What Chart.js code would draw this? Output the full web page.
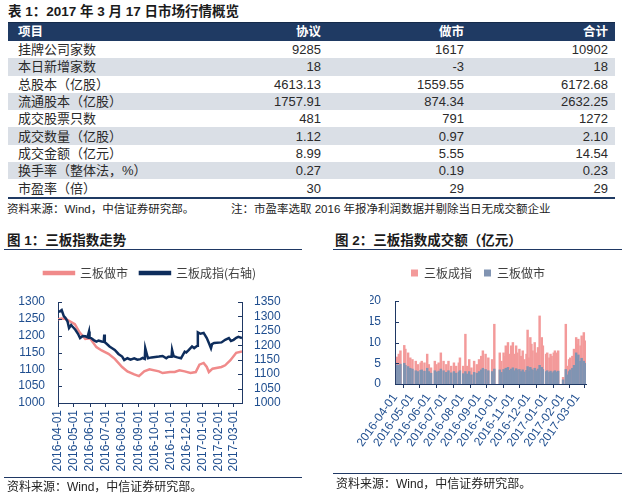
<!DOCTYPE html>
<html>
<head>
<meta charset="utf-8">
<script src="https://cdn.jsdelivr.net/npm/chart.js@4.4.1/dist/chart.umd.min.js"></script>
<style>
html,body{margin:0;padding:0;background:#fff}
body{position:relative;width:624px;height:494px;overflow:hidden;font-family:"Liberation Sans","Noto Sans CJK SC",sans-serif;color:#222}
.abs{position:absolute;white-space:nowrap}
.ttl{font-weight:bold;font-size:13.5px;color:#1b1b1b;line-height:16px}
.src{font-size:12px;color:#222;line-height:14px}
.src2{font-size:11.5px;color:#222;line-height:14px}
.rule{position:absolute;height:1px;background:#1F3864}
table{position:absolute;left:8px;top:22px;width:607px;border-collapse:collapse;table-layout:fixed;font-size:13px}
td,th{padding:0;height:17.3px;line-height:17px;white-space:nowrap;overflow:hidden;color:#2a2a2a}
th{background:#1F3A63;color:#fff;font-weight:bold;height:18px;font-size:12.5px;border-top:1px solid #142a4a}
tr.g td{background:#DADFE6}
td:first-child,th:first-child{text-align:left;padding-left:10px}
td:nth-child(2),th:nth-child(2){text-align:right;padding-right:3px}
td:nth-child(3),th:nth-child(3){text-align:right;padding-right:3px}
td:nth-child(4),th:nth-child(4){text-align:right;padding-right:7px}
tbody tr:last-child td{border-bottom:2px solid #1F3A63}
canvas{position:absolute}
</style>
</head>
<body>
<div class="abs ttl" style="left:8px;top:4px">表 1：2017 年 3 月 17 日市场行情概览</div>
<table id="tbl"><colgroup><col style="width:200px"><col style="width:116px"><col style="width:143px"><col style="width:148px"></colgroup><thead></thead><tbody></tbody></table>
<div class="abs src2" style="left:7px;top:202px">资料来源：Wind，中信证券研究部。</div>
<div class="abs src2" style="left:231px;top:202px">注：市盈率选取 2016 年报净利润数据并剔除当日无成交额企业</div>
<div class="abs ttl" style="left:7px;top:233px">图 1：三板指数走势</div>
<div class="rule" style="left:4px;top:249px;width:298px"></div>
<div class="abs ttl" style="left:335px;top:233px">图 2：三板指数成交额（亿元）</div>
<div class="rule" style="left:333px;top:249px;width:289px"></div>
<canvas id="c1" width="310" height="222" style="left:0;top:255px"></canvas>
<canvas id="c2" width="299" height="218" style="left:325px;top:255px"></canvas>
<div class="rule" style="left:4px;top:477px;width:298px"></div>
<div class="abs src" style="left:7px;top:480px">资料来源：Wind，中信证券研究部。</div>
<div class="rule" style="left:333px;top:473px;width:289px"></div>
<div class="abs src" style="left:336px;top:477px">资料来源：Wind，中信证券研究部。</div>
<script>
// ---------- Table data ----------
const colHeads = ['项目', '协议', '做市', '合计'];
const rowLabels = ['挂牌公司家数', '本日新增家数', '总股本（亿股）', '流通股本（亿股）', '成交股票只数', '成交数量（亿股）', '成交金额（亿元）', '换手率（整体法，%）', '市盈率（倍）'];
const xieyi  = ['9285', '18', '4613.13', '1757.91', '481', '1.12', '8.99', '0.27', '30'];
const zuoshi = ['1617', '-3', '1559.55', '874.34', '791', '0.97', '5.55', '0.19', '29'];
const heji   = ['10902', '18', '6172.68', '2632.25', '1272', '2.10', '14.54', '0.23', '29'];

// ---------- Chart 1: index trend ----------
const monthTicks = ['2016-04-01','2016-05-01','2016-06-01','2016-07-01','2016-08-01','2016-09-01','2016-10-01','2016-11-01','2016-12-01','2017-01-01','2017-02-01','2017-03-01'];
const zsDates = ['2016-04-01','2016-04-08','2016-04-15','2016-04-22','2016-05-03','2016-05-12','2016-05-23','2016-06-01','2016-06-13','2016-06-23','2016-07-06','2016-07-18','2016-08-01','2016-08-11','2016-08-24','2016-09-02','2016-09-12','2016-09-22','2016-10-10','2016-10-17','2016-10-31','2016-11-09','2016-11-18','2016-11-28','2016-12-09','2016-12-19','2016-12-26','2017-01-03','2017-01-09','2017-01-13','2017-01-20','2017-02-06','2017-02-13','2017-02-23','2017-03-06','2017-03-17'];
const zsValues = [1249,1251,1250,1244,1234,1210,1190,1192,1166,1156,1146,1131,1107,1094,1085,1080,1094,1100,1094,1089,1092,1092,1097,1094,1089,1092,1114,1119,1107,1092,1102,1107,1112,1127,1149,1153];
const czDates = ['2016-04-01','2016-04-05','2016-04-08','2016-04-12','2016-04-15','2016-04-19','2016-04-22','2016-04-26','2016-04-28','2016-05-04','2016-05-09','2016-05-13','2016-05-18','2016-05-23','2016-05-27','2016-05-30','2016-05-31','2016-06-03','2016-06-08','2016-06-13','2016-06-17','2016-06-23','2016-06-27','2016-06-28','2016-06-29','2016-07-01','2016-07-08','2016-07-13','2016-07-18','2016-07-25','2016-08-01','2016-08-05','2016-08-11','2016-08-17','2016-08-24','2016-08-30','2016-09-05','2016-09-09','2016-09-13','2016-09-14','2016-09-19','2016-09-26','2016-10-10','2016-10-17','2016-10-24','2016-10-28','2016-11-03','2016-11-04','2016-11-07','2016-11-14','2016-11-21','2016-11-28','2016-12-01','2016-12-06','2016-12-12','2016-12-16','2016-12-20','2016-12-22','2016-12-23','2016-12-28','2017-01-03','2017-01-09','2017-01-13','2017-01-17','2017-01-19','2017-01-23','2017-02-06','2017-02-13','2017-02-20','2017-02-24','2017-03-01','2017-03-06','2017-03-10','2017-03-17'];
const czValues = [1316,1318,1322,1301,1295,1283,1260,1270,1266,1254,1240,1225,1232,1231,1228,1248,1226,1225,1218,1213,1216,1213,1212,1237,1210,1208,1196,1190,1184,1170,1161,1149,1155,1150,1155,1150,1152,1156,1153,1190,1155,1158,1161,1163,1155,1160,1160,1184,1162,1158,1155,1178,1175,1184,1196,1190,1196,1198,1245,1240,1243,1225,1208,1190,1204,1208,1210,1219,1225,1215,1219,1226,1229,1225];

// ---------- Chart 2: turnover (亿元) ----------
const barDates = ['2016-04-05','2016-04-08','2016-04-11','2016-04-18','2016-04-20','2016-04-25','2016-04-29','2016-05-03','2016-05-09','2016-05-13','2016-05-18','2016-05-20','2016-05-25','2016-05-30','2016-06-02','2016-06-06','2016-06-13','2016-06-16','2016-06-20','2016-06-24','2016-06-29','2016-07-04','2016-07-08','2016-07-13','2016-07-18','2016-07-22','2016-07-27','2016-07-29','2016-08-04','2016-08-08','2016-08-11','2016-08-15','2016-08-19','2016-08-24','2016-08-29','2016-09-02','2016-09-06','2016-09-09','2016-09-14','2016-09-19','2016-09-26','2016-09-30','2016-10-10','2016-10-13','2016-10-17','2016-10-19','2016-10-21','2016-10-25','2016-10-28','2016-10-31','2016-11-03','2016-11-07','2016-11-09','2016-11-11','2016-11-15','2016-11-18','2016-11-21','2016-11-24','2016-11-28','2016-11-30','2016-12-02','2016-12-05','2016-12-07','2016-12-09','2016-12-13','2016-12-16','2016-12-19','2016-12-22','2016-12-26','2016-12-28','2017-01-03','2017-01-05','2017-01-09','2017-01-11','2017-01-13','2017-01-17','2017-01-19','2017-01-23','2017-01-25','2017-02-03','2017-02-08','2017-02-10','2017-02-14','2017-02-16','2017-02-20','2017-02-23','2017-02-27','2017-03-01','2017-03-03','2017-03-07','2017-03-09','2017-03-13','2017-03-16'];
const czAmount = [6.5,7.2,8.0,9.3,8.4,7.5,6.3,5.9,5.5,4.7,5.1,5.5,5.1,7.2,4.7,3.9,5.5,4.7,5.1,7.5,5.5,4.7,5.5,4.3,5.1,4.3,5.1,6.3,4.3,12.0,4.3,5.9,3.9,5.5,4.7,5.9,6.7,8.0,7.2,6.3,5.9,14.4,7.5,5.5,7.5,6.7,9.2,10.0,7.2,9.2,10.0,7.2,9.2,7.5,8.4,6.7,8.0,5.9,7.2,13.0,6.3,11.2,9.6,8.0,10.0,7.5,8.8,16.4,11.2,9.2,7.2,7.5,6.3,7.2,6.7,7.5,8.0,7.5,8.0,1.6,14.4,4.3,5.9,6.3,6.7,8.4,11.2,9.6,10.8,9.2,11.6,12.4,10.4];
const zsAmount = [4.6,4.5,4.8,5.0,4.5,4.2,3.8,3.6,3.2,3.0,3.3,3.4,3.1,3.8,3.0,2.6,3.2,2.9,3.1,3.6,3.2,2.8,3.2,2.7,3.0,2.6,2.9,3.2,2.5,3.0,2.4,3.0,2.2,2.8,2.6,3.0,3.4,3.8,3.5,3.2,3.0,3.6,3.4,2.8,3.5,3.2,3.8,4.0,3.3,3.6,3.9,3.2,3.7,3.4,3.5,3.0,3.4,2.9,3.3,4.2,3.1,4.0,3.6,3.3,3.8,3.2,3.6,4.5,4.0,3.5,3.0,3.2,2.8,3.1,2.7,3.0,3.2,2.9,3.1,1.0,3.5,2.2,3.0,3.4,3.8,4.5,7.5,6.0,7.0,5.5,6.2,5.5,5.0];

// ---------- build table ----------
(function(){
  const thead = document.querySelector('#tbl thead');
  thead.innerHTML = '<tr>' + colHeads.map(h => '<th>' + h + '</th>').join('') + '</tr>';
  const tbody = document.querySelector('#tbl tbody');
  tbody.innerHTML = rowLabels.map((r, i) =>
    '<tr' + (i % 2 === 1 ? ' class="g"' : '') + '><td>' + r + '</td><td>' + xieyi[i] + '</td><td>' + zuoshi[i] + '</td><td>' + heji[i] + '</td></tr>'
  ).join('');
})();

// ---------- charts ----------
Chart.defaults.font.family = '"Liberation Sans", "Noto Sans CJK SC", sans-serif';
Chart.defaults.font.size = 12;
const AX = '#1F3864', TICK = '#1F4E8F', PINK = '#F08A8A', NAVY = '#0E2D5C';
const day0 = Date.UTC(2016, 3, 1);
const toDay = s => { const p = s.split('-').map(Number); return (Date.UTC(p[0], p[1] - 1, p[2]) - day0) / 86400000; };
const monthDays = monthTicks.map(toDay);
const pts = (ds, vs) => ds.map((d, i) => ({ x: toDay(d), y: vs[i] }));

const xScale = (rot, h) => ({
  type: 'linear', min: 0, max: 350, offset: false,
  afterBuildTicks: s => { s.ticks = monthDays.map(v => ({ value: v })); },
  afterFit: s => { s.paddingLeft = 0; s.paddingRight = 0; s.height = h; },
  ticks: { autoSkip: false, minRotation: rot, maxRotation: rot, padding: 3, color: TICK, font: { size: 12 }, callback: (v, i) => monthTicks[i] },
  grid: { display: true, drawOnChartArea: false, drawTicks: true, tickLength: 4, color: AX },
  border: { display: true, color: AX, width: 1 }
});
const yScale = (pos, min, max, step, pad, w) => ({
  position: pos, min: min, max: max,
  afterFit: s => { s.width = w; },
  ticks: { stepSize: step, padding: pad, color: TICK, autoSkip: false, font: { size: 12, lineHeight: 1 }, callback: v => String(v) },
  grid: { display: false, drawTicks: false },
  border: { display: true, color: AX, width: 1 }
});
const legendH = h => ({ id: 'legendH', beforeInit(chart) {
  const fit = chart.legend.fit;
  chart.legend.fit = function () { fit.call(this); this.height = h; };
}});
const inTicks = ids => ({ id: 'inTicks', afterDraw(chart) {
  const ctx = chart.ctx;
  ctx.save(); ctx.strokeStyle = AX; ctx.lineWidth = 1;
  ids.forEach(id => {
    const s = chart.scales[id];
    const left = s.position === 'left';
    const x = left ? s.right : s.left;
    s.ticks.forEach((t, i) => {
      const y = Math.round(s.getPixelForTick(i)) + 0.5;
      ctx.beginPath(); ctx.moveTo(x, y); ctx.lineTo(x + (left ? 4 : -4), y); ctx.stroke();
    });
  });
  ctx.restore();
}});
const legendOpts = (bw, bh, pad) => ({
  display: true, position: 'top',
  labels: { boxWidth: bw, boxHeight: bh, padding: pad, color: '#404040',
    font: { size: 12, family: '"Noto Sans CJK SC", sans-serif' },
    sort: (a, b) => a.datasetIndex - b.datasetIndex }
});

new Chart(document.getElementById('c1'), {
  type: 'line',
  data: { datasets: [
    { label: '三板做市', data: pts(zsDates, zsValues), yAxisID: 'y', borderColor: PINK, backgroundColor: PINK, borderWidth: 2.5, pointRadius: 0, tension: 0, order: 1 },
    { label: '三板成指(右轴)', data: pts(czDates, czValues), yAxisID: 'y1', borderColor: NAVY, backgroundColor: NAVY, borderWidth: 2.5, pointRadius: 0, tension: 0, order: 0 }
  ]},
  options: {
    responsive: false, maintainAspectRatio: false, animation: false,
    layout: { padding: { left: 0, right: 10, top: 0, bottom: 0 } },
    plugins: { legend: legendOpts(30, 2, 12), tooltip: { enabled: false } },
    scales: { x: xScale(90, 74), y: yScale('left', 1000, 1300, 50, 13, 58), y1: yScale('right', 1000, 1350, 50, 12, 58) }
  },
  plugins: [legendH(47), inTicks(['y', 'y1'])]
});

new Chart(document.getElementById('c2'), {
  type: 'bar',
  data: { datasets: [
    { label: '三板成指', data: pts(barDates, czAmount), backgroundColor: '#F39A9A', barThickness: 1.8, grouped: false, order: 1 },
    { label: '三板做市', data: pts(barDates, zsAmount), backgroundColor: '#8194B2', barThickness: 1.8, grouped: false, order: 0 }
  ]},
  options: {
    responsive: false, maintainAspectRatio: false, animation: false,
    layout: { padding: { left: 45, right: 38, top: 0, bottom: 0 } },
    plugins: { legend: legendOpts(7, 7, 12), tooltip: { enabled: false } },
    scales: { x: xScale(55, 89), y: yScale('left', 0, 20, 5, 14, 25) }
  },
  plugins: [legendH(46), inTicks(['y'])]
});
</script>
</body>
</html>
